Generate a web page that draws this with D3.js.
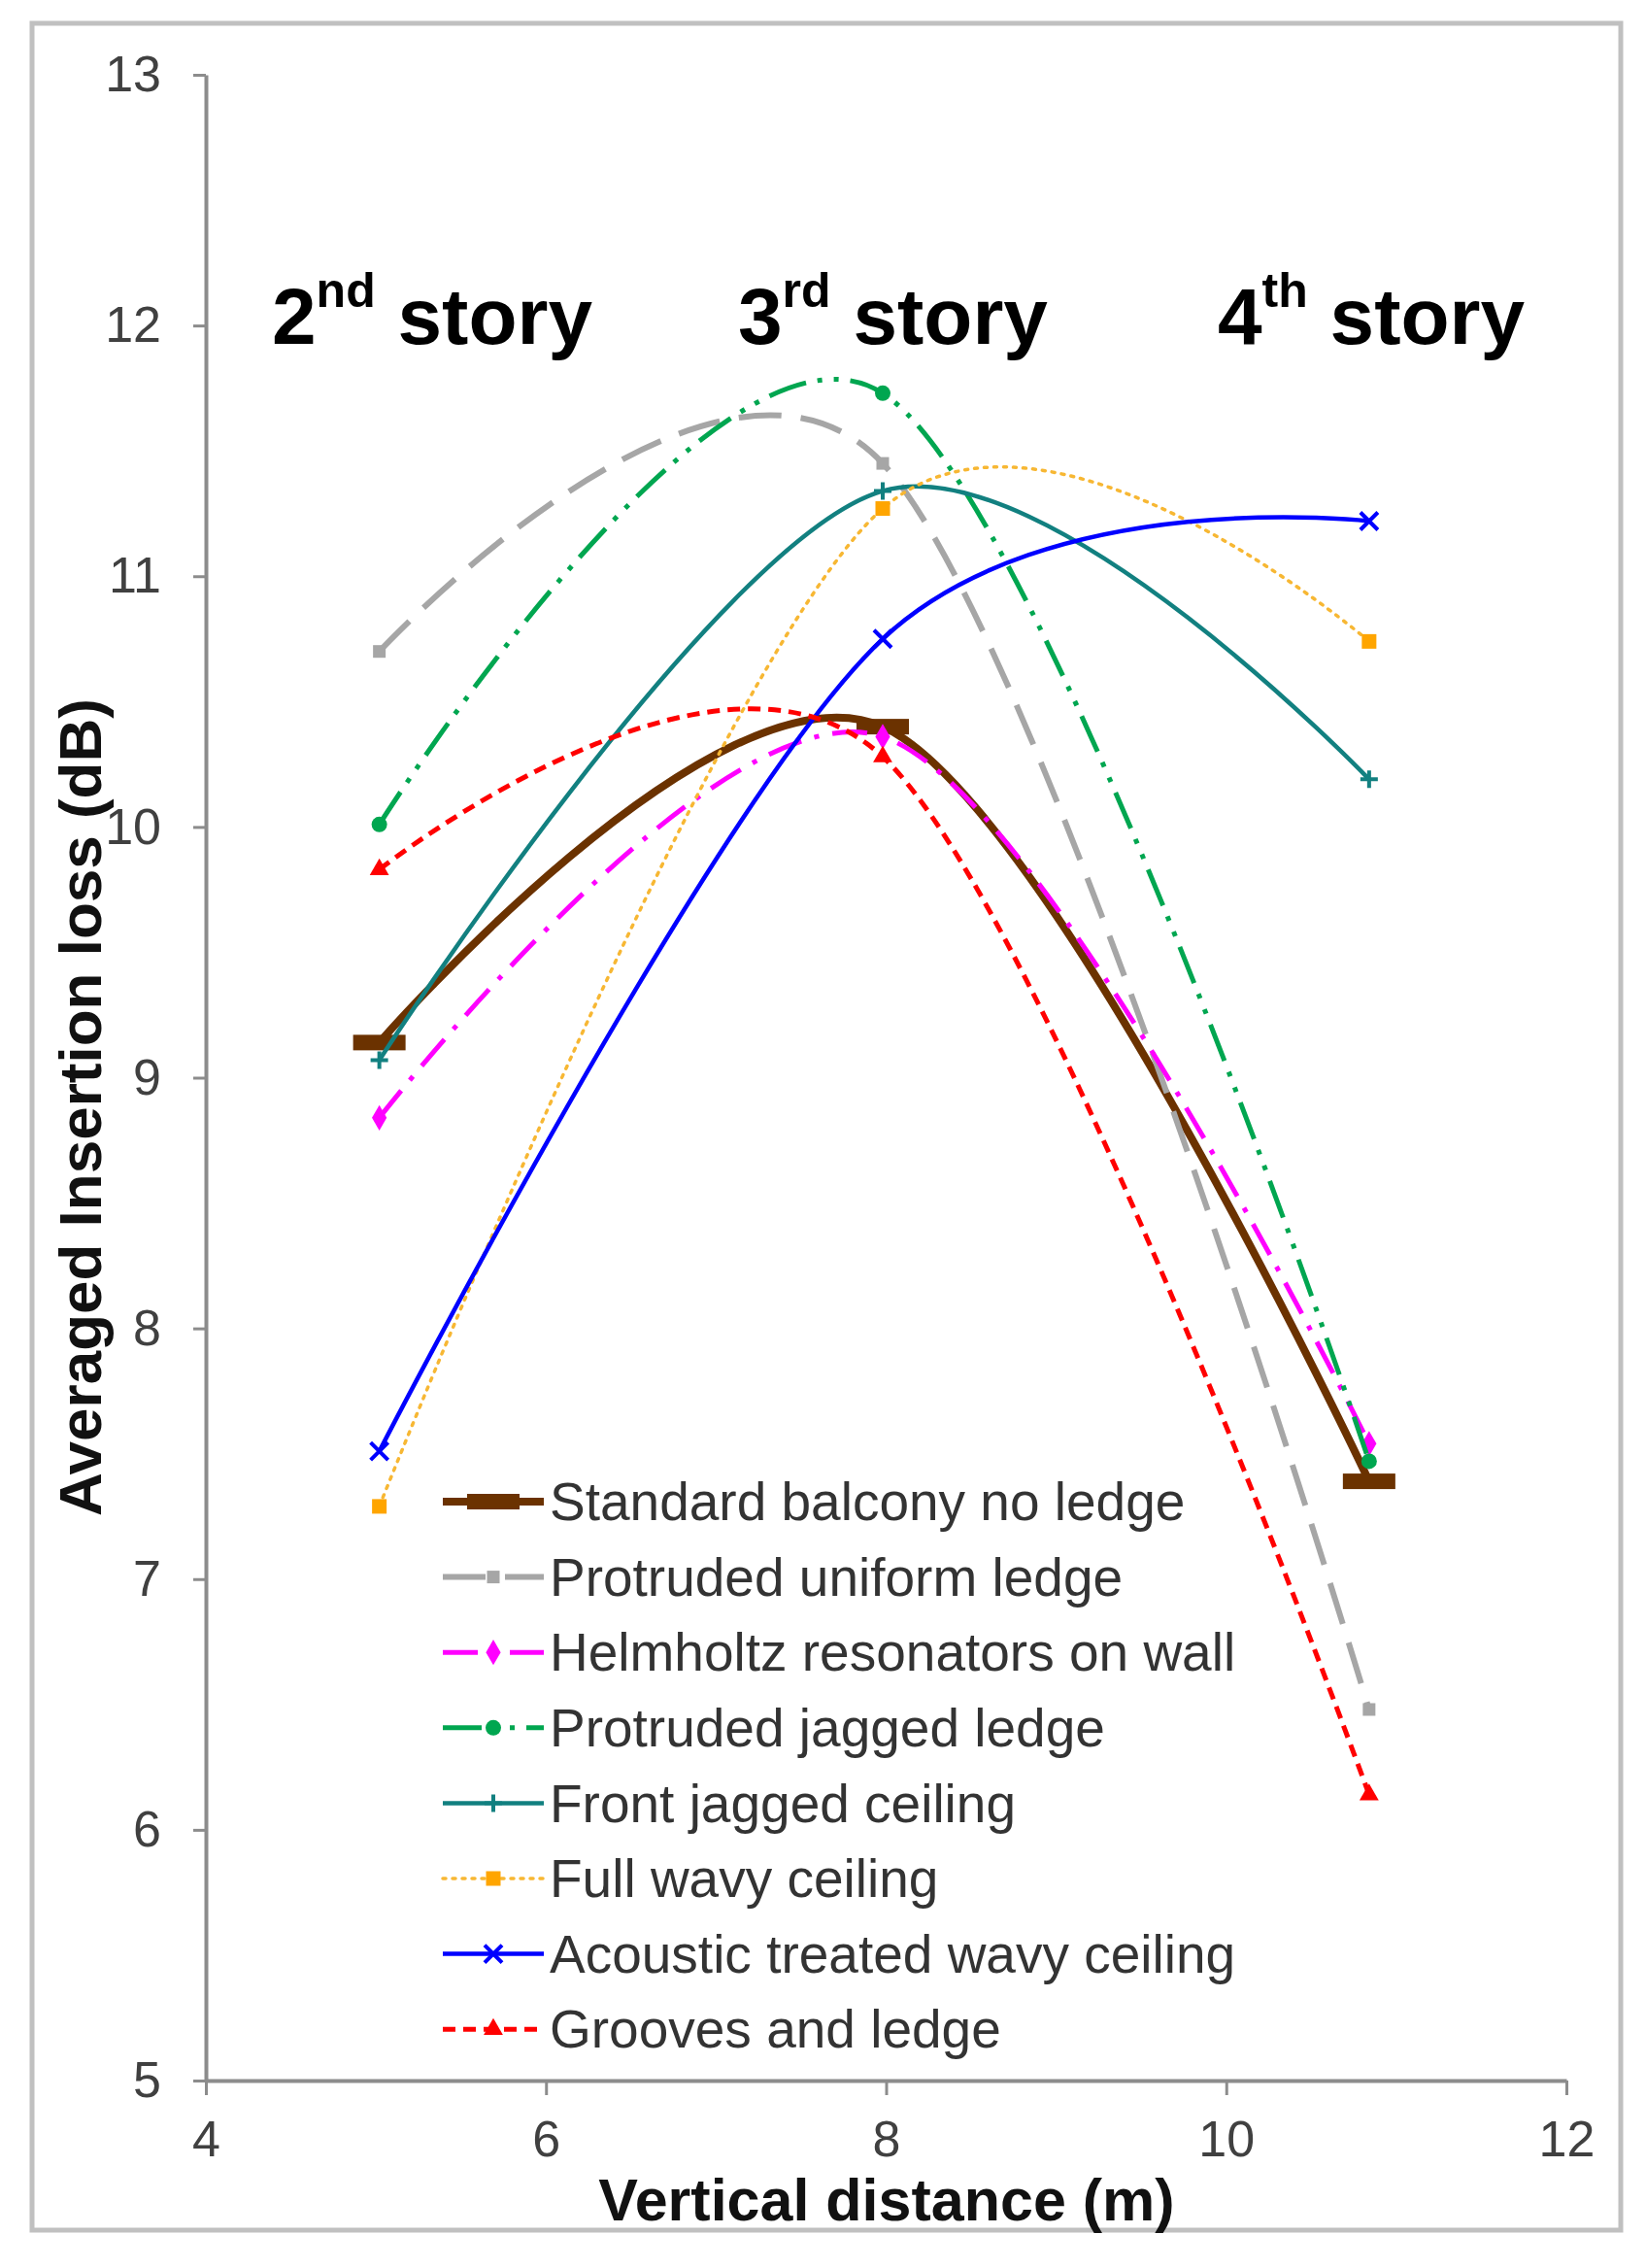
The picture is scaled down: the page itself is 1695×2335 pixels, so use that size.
<!DOCTYPE html>
<html>
<head>
<meta charset="utf-8">
<title>Averaged insertion loss vs vertical distance</title>
<script src="https://cdn.jsdelivr.net/npm/d3@7"></script>
<style>
  body { margin: 0; background: #fff; }
  svg { display: block; font-family: "Liberation Sans", Arial, sans-serif; }
</style>
</head>
<body>
<div id="chart"></div>
<script>
// values (x in m, y in dB)
var distances = [5.02, 7.98, 10.84];
var seriesNames = ["Standard balcony no ledge", "Protruded uniform ledge",
  "Helmholtz resonators on wall", "Protruded jagged ledge", "Front jagged ceiling",
  "Full wavy ceiling", "Acoustic treated wavy ceiling", "Grooves and ledge"];
var standardBalcony  = [9.14, 10.40, 7.39];
var protrudedUniform = [10.70, 11.45, 6.48];
var helmholtz        = [8.84, 10.36, 7.54];
var protrudedJagged  = [10.01, 11.73, 7.47];
var frontJagged      = [9.07, 11.34, 10.19];
var fullWavy         = [7.29, 11.27, 10.74];
var acousticWavy     = [7.51, 10.75, 11.22];
var groovesLedge     = [9.83, 10.28, 6.14];
var xTicks = [4, 6, 8, 10, 12];
var yTicks = [5, 6, 7, 8, 9, 10, 11, 12, 13];
var storyLabels = [["2", "nd"], ["3", "rd"], ["4", "th"]];

// line / marker styles, same order as seriesNames
var styles = [
  {color: "#6b3200", width: 8,   dash: null,                marker: "bar"},
  {color: "#a6a6a6", width: 6,   dash: "44 20",             marker: "square"},
  {color: "#ff00ff", width: 5,   dash: "36 14 5 14",        marker: "diamond"},
  {color: "#00a650", width: 5,   dash: "40 12 5 12 5 12",   marker: "circle"},
  {color: "#128080", width: 4.5, dash: null,                marker: "plus"},
  {color: "#f7b733", width: 3.5, dash: "3 7",               marker: "orangesq"},
  {color: "#0000ff", width: 4.5, dash: null,                marker: "times"},
  {color: "#ff0000", width: 5,   dash: "13 8",              marker: "triangle"}
];
var values = [standardBalcony, protrudedUniform, helmholtz, protrudedJagged,
  frontJagged, fullWavy, acousticWavy, groovesLedge];

var W = 1695, H = 2335;
var svg = d3.select("#chart").append("svg")
  .attr("width", W).attr("height", H);

svg.append("rect").attr("width", W).attr("height", H).attr("fill", "#fff");
// outer frame
svg.append("rect")
  .attr("x", 33).attr("y", 24).attr("width", 1636).attr("height", 2272)
  .attr("fill", "none").attr("stroke", "#c0c0c0").attr("stroke-width", 5);

var x = d3.scaleLinear().domain([4, 12]).range([212, 1613]);
var y = d3.scaleLinear().domain([5, 13]).range([2142, 77]);

var axisColor = "#8c8c8c";

var gy = svg.append("g").attr("transform", "translate(" + x(4) + ",0)")
  .call(d3.axisLeft(y).tickValues(yTicks).tickSize(13).tickSizeOuter(0)
    .tickPadding(33).tickFormat(d3.format("d")));
var gx = svg.append("g").attr("transform", "translate(0," + y(5) + ")")
  .call(d3.axisBottom(x).tickValues(xTicks).tickSize(15).tickSizeOuter(0)
    .tickPadding(26).tickFormat(d3.format("d")));

[gy, gx].forEach(function(g) {
  g.select(".domain").attr("stroke", axisColor).attr("stroke-width", 4);
  g.selectAll(".tick line").attr("stroke", axisColor).attr("stroke-width", 3);
  g.selectAll(".tick text").attr("fill", "#404040")
    .style("font-family", "'Liberation Sans', Arial, sans-serif")
    .style("font-size", "52px");
});

// axis titles
svg.append("text")
  .attr("x", 913).attr("y", 2286)
  .attr("text-anchor", "middle")
  .style("font-size", "61px").style("font-weight", "bold")
  .attr("fill", "#111")
  .text("Vertical distance (m)");

svg.append("text")
  .attr("transform", "translate(104,1140) rotate(-90)")
  .attr("text-anchor", "middle")
  .style("font-size", "62px").style("font-weight", "bold")
  .attr("fill", "#111")
  .text("Averaged Insertion loss (dB)");

// story annotations
var storyX = [280, 760, 1254];
storyLabels.forEach(function(s, i) {
  var t = svg.append("text")
    .attr("x", storyX[i]).attr("y", 354)
    .style("font-size", "82px").style("font-weight", "bold")
    .attr("fill", "#000");
  t.append("tspan").text(s[0]);
  t.append("tspan").attr("dy", -38).style("font-size", "50px").text(s[1]);
  t.append("tspan").attr("dy", 38).text(" story");
});

// markers
function drawMarker(g, type, color, cx, cy) {
  if (type === "bar") {
    g.append("rect").attr("x", cx - 27).attr("y", cy - 8)
      .attr("width", 54).attr("height", 16).attr("fill", color);
  } else if (type === "square" || type === "orangesq") {
    var s = type === "square" ? 13 : 15;
    g.append("rect").attr("x", cx - s / 2).attr("y", cy - s / 2)
      .attr("width", s).attr("height", s)
      .attr("fill", type === "square" ? color : "#ffa500");
  } else if (type === "diamond") {
    g.append("path").attr("transform", "translate(" + cx + "," + cy + ")")
      .attr("d", d3.symbol(d3.symbolDiamond, 200)()).attr("fill", color);
  } else if (type === "circle") {
    g.append("circle").attr("cx", cx).attr("cy", cy).attr("r", 8).attr("fill", color);
  } else if (type === "triangle") {
    g.append("path").attr("transform", "translate(" + cx + "," + cy + ")")
      .attr("d", d3.symbol(d3.symbolTriangle, 170)()).attr("fill", color);
  } else if (type === "plus" || type === "times") {
    var r = 9;
    var p = type === "plus"
      ? "M" + (-r) + ",0H" + r + "M0," + (-r) + "V" + r
      : "M" + (-r) + "," + (-r) + "L" + r + "," + r + "M" + r + "," + (-r) + "L" + (-r) + "," + r;
    g.append("path").attr("transform", "translate(" + cx + "," + cy + ")")
      .attr("d", p).attr("stroke", color).attr("stroke-width", 4).attr("fill", "none");
  }
}

var line = d3.line()
  .x(function(d) { return x(d[0]); })
  .y(function(d) { return y(d[1]); })
  .curve(d3.curveCardinal.tension(0));

var plot = svg.append("g");
values.forEach(function(v, i) {
  var st = styles[i];
  var pts = distances.map(function(d, j) { return [d, v[j]]; });
  var g = plot.append("g");
  g.append("path").datum(pts)
    .attr("d", line)
    .attr("fill", "none")
    .attr("stroke", st.color)
    .attr("stroke-width", st.width)
    .attr("stroke-dasharray", st.dash)
    .attr("stroke-linecap", st.marker === "orangesq" ? "round" : "butt");
  pts.forEach(function(p) { drawMarker(g, st.marker, st.color, x(p[0]), y(p[1])); });
});

// legend
var legend = svg.append("g").attr("transform", "translate(456,1546)");
seriesNames.forEach(function(name, i) {
  var st = styles[i];
  var row = legend.append("g").attr("transform", "translate(0," + i * 77.6 + ")");
  row.append("line").attr("x1", 0).attr("x2", 104).attr("y1", 0).attr("y2", 0)
    .attr("stroke", st.color).attr("stroke-width", st.width)
    .attr("stroke-dasharray", st.dash)
    .attr("stroke-linecap", st.marker === "orangesq" ? "round" : "butt");
  drawMarker(row, st.marker, st.color, 52, 0);
  row.append("text").attr("x", 110).attr("y", 0).attr("dy", "0.35em")
    .style("font-size", "55px").attr("fill", "#333")
    .text(name);
});
</script>
</body>
</html>
